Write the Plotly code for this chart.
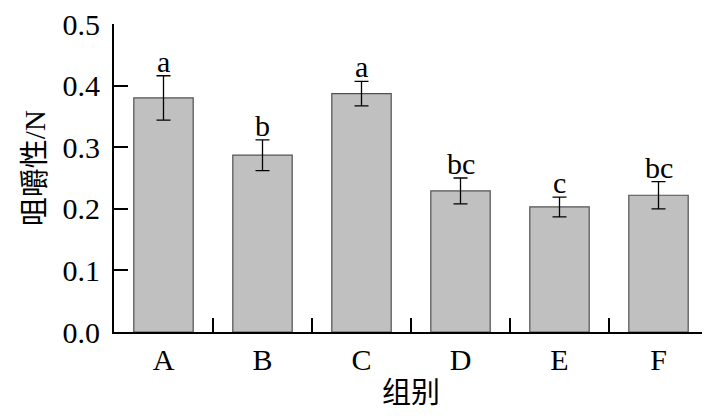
import plotly.graph_objects as go

groups = ["A", "B", "C", "D", "E", "F"]
values = [0.380, 0.287, 0.387, 0.229, 0.203, 0.222]
errors = [0.036, 0.025, 0.020, 0.021, 0.016, 0.022]
letters = ["a", "b", "a", "bc", "c", "bc"]
y_ticks = [0.0, 0.1, 0.2, 0.3, 0.4, 0.5]
y_ticklabels = ["0.0", "0.1", "0.2", "0.3", "0.4", "0.5"]
x_title = "组别"
y_title = "咀嚼性/N"

FONT = "Liberation Serif, Times New Roman, Noto Sans CJK SC, serif"
FS = 30

fig = go.Figure()
fig.add_trace(go.Bar(
    x=groups, y=values, width=0.6,
    marker=dict(color="#c0c0c0", line=dict(color="#505050", width=1.2)),
    error_y=dict(type="data", array=errors, visible=True,
                 color="black", thickness=1.3, width=7),
))

for g, v, e, t in zip(groups, values, errors, letters):
    fig.add_annotation(x=g, y=v + e, text=t, showarrow=False,
                       yanchor="bottom", yshift=-4,
                       font=dict(family=FONT, size=FS, color="black"))

fig.add_annotation(xref="paper", yref="paper", x=0.5, y=-0.198,
                   text=x_title, showarrow=False, xanchor="center", yanchor="middle",
                   font=dict(family=FONT, size=29, color="black"))
fig.add_annotation(xref="paper", yref="paper", x=-0.133, y=0.532,
                   text=y_title, showarrow=False, textangle=-90,
                   xanchor="center", yanchor="middle",
                   font=dict(family=FONT, size=29, color="black"))

fig.update_layout(
    width=702, height=409,
    margin=dict(l=106, r=2, t=16, b=85),
    plot_bgcolor="white", paper_bgcolor="white",
    showlegend=False,
    font=dict(family=FONT, size=FS, color="black"),
)
fig.update_xaxes(
    showline=True, linecolor="black", linewidth=2,
    ticks="inside", tickson="boundaries", ticklen=14, tickwidth=1.5, tickcolor="black",
    range=[-0.5, 5.5], showgrid=False, automargin=False,
    ticklabeloverflow="allow",
    tickfont=dict(family=FONT, size=FS),
)
fig.update_yaxes(
    showline=True, linecolor="black", linewidth=2,
    ticks="inside", ticklen=14, tickwidth=1.5, tickcolor="black",
    range=[0, 0.5], tickvals=y_ticks, ticktext=y_ticklabels,
    showgrid=False, zeroline=False, automargin=False,
    ticklabelstandoff=6, ticklabeloverflow="allow",
    tickfont=dict(family=FONT, size=FS),
)

fig.write_html("out.html")
